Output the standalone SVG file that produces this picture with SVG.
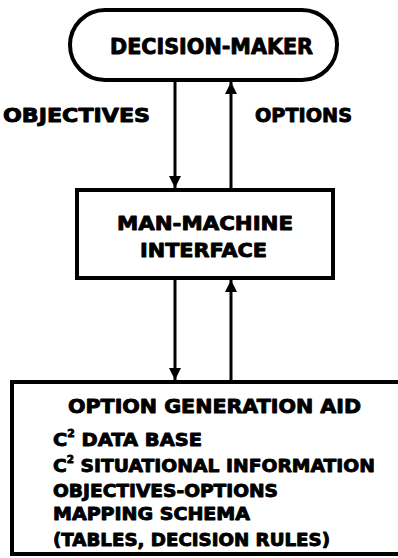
<svg xmlns="http://www.w3.org/2000/svg" width="398" height="558" viewBox="0 0 398 558">
<style>
.box{fill:#fff;stroke:#000;stroke-width:4}
.lbl{font-family:"DejaVu Sans","Liberation Sans",sans-serif;font-weight:bold;fill:#000;stroke:#000;stroke-width:0.9;stroke-linejoin:round}
.conn{stroke:#000;stroke-width:3;fill:none}
</style>
<defs>
<marker id="ah" viewBox="0 0 10 10" refX="10" refY="5" markerWidth="4.5" markerHeight="4" orient="auto" markerUnits="strokeWidth">
<path d="M0,0 L10,5 L0,10 Z" fill="#000"/>
</marker>
</defs>
<rect width="398" height="558" fill="#fff"/>
<g id="connectors">
<line class="conn" x1="175" y1="80" x2="175" y2="188" marker-end="url(#ah)"/>
<line class="conn" x1="231" y1="190" x2="231" y2="82" marker-end="url(#ah)"/>
<line class="conn" x1="175" y1="278" x2="175" y2="380" marker-end="url(#ah)"/>
<line class="conn" x1="231" y1="382" x2="231" y2="280" marker-end="url(#ah)"/>
<text class="lbl" x="3" y="122" font-size="19" textLength="147" lengthAdjust="spacingAndGlyphs">OBJECTIVES</text>
<text class="lbl" x="255" y="122" font-size="19" textLength="97" lengthAdjust="spacingAndGlyphs">OPTIONS</text>
</g>
<g id="decision-maker">
<rect class="box" x="70" y="10" width="267" height="70" rx="35" ry="35"/>
<text class="lbl" x="110" y="54" font-size="21" textLength="203" lengthAdjust="spacingAndGlyphs">DECISION-MAKER</text>
</g>
<g id="man-machine-interface">
<rect class="box" x="77" y="190" width="256" height="88"/>
<text class="lbl" x="117" y="230" font-size="20" textLength="176" lengthAdjust="spacingAndGlyphs">MAN-MACHINE</text>
<text class="lbl" x="140" y="257" font-size="20" textLength="127" lengthAdjust="spacingAndGlyphs">INTERFACE</text>
</g>
<g id="option-generation-aid">
<rect class="box" x="12" y="382" width="400" height="172"/>
<text class="lbl" x="68" y="413" font-size="19" textLength="293" lengthAdjust="spacingAndGlyphs">OPTION GENERATION AID</text>
<text class="lbl" x="53" y="446" font-size="18" textLength="149" lengthAdjust="spacingAndGlyphs">C<tspan font-size="10" dy="-9">2</tspan><tspan dy="9"> DATA BASE</tspan></text>
<text class="lbl" x="53" y="472" font-size="18" textLength="322" lengthAdjust="spacingAndGlyphs">C<tspan font-size="10" dy="-9">2</tspan><tspan dy="9"> SITUATIONAL INFORMATION</tspan></text>
<text class="lbl" x="53" y="497" font-size="17" textLength="225" lengthAdjust="spacingAndGlyphs">OBJECTIVES-OPTIONS</text>
<text class="lbl" x="53" y="520" font-size="17" textLength="197" lengthAdjust="spacingAndGlyphs">MAPPING SCHEMA</text>
<text class="lbl" x="53" y="546" font-size="17" textLength="277" lengthAdjust="spacingAndGlyphs">(TABLES, DECISION RULES)</text>
</g>
</svg>
